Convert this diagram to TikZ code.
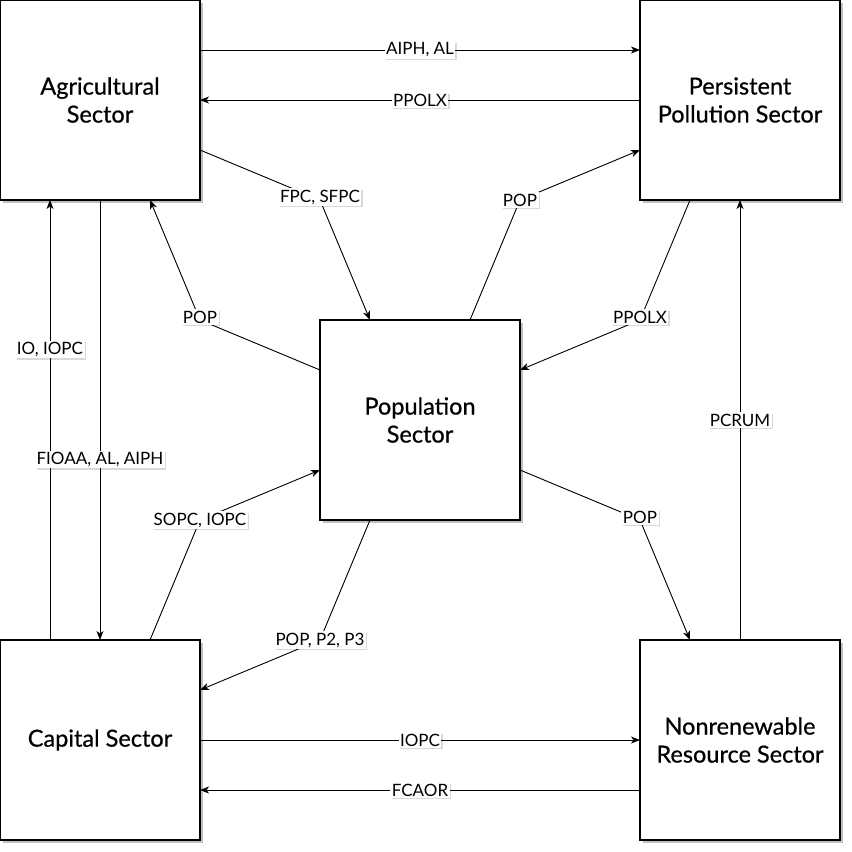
\documentclass[tikz,border=0pt]{standalone}
\usepackage{fontspec}
\setmainfont{Lato}
\newfontface\boxfont{Lato}[FakeBold=0.6]
\usetikzlibrary{arrows.meta,shadows,calc}
\begin{document}
\begin{tikzpicture}[x=1pt,y=-1pt,
  box/.style={draw=black,line width=1.3pt,fill=white,minimum width=200pt,minimum height=200pt,
    inner sep=0pt,outer sep=0pt,align=center,font=\boxfont\fontsize{23.5}{28}\selectfont,
    drop shadow={shadow xshift=2.5pt,shadow yshift=-2.5pt,fill=black,opacity=0.25}},
  edge/.style={draw=black,line width=0.9pt,-{Stealth[length=9pt,width=7pt,inset=2.5pt]}},
  lbl/.style={fill=white,inner sep=1.5pt,font=\fontsize{17}{19}\selectfont,
    drop shadow={shadow xshift=1.5pt,shadow yshift=-1.5pt,fill=black,opacity=0.15}}]
\useasboundingbox (0,0) rectangle (852,852);
\node[box] (agr) at (100,100) {Agricultural\\Sector};
\node[box] (pol) at (740,100) {Persistent\\Pollution Sector};
\node[box] (pop) at (420,420) {Population\\Sector};
\node[box] (cap) at (100,740) {Capital Sector};
\node[box] (nrs) at (740,740) {Nonrenewable\\Resource Sector};
% horizontal top
\draw[edge] ($(agr.north west)+(200,50)$) -- node[lbl]{AIPH, AL} ($(pol.north west)+(0,50)$);
\draw[edge] ($(pol.north west)+(0,100)$) -- node[lbl]{PPOLX} ($(agr.north west)+(200,100)$);
% horizontal bottom
\draw[edge] ($(cap.north west)+(200,100)$) -- node[lbl]{IOPC} ($(nrs.north west)+(0,100)$);
\draw[edge] ($(nrs.north west)+(0,150)$) -- node[lbl]{FCAOR} ($(cap.north west)+(200,150)$);
% verticals left
\draw[edge] ($(cap.north west)+(50,0)$) -- node[lbl,pos=0.66]{IO, IOPC} ($(agr.north west)+(50,200)$);
\draw[edge] ($(agr.north west)+(100,200)$) -- node[lbl,pos=0.59]{FIOAA, AL, AIPH} ($(cap.north west)+(100,0)$);
% vertical right
\draw[edge] ($(nrs.north west)+(100,0)$) -- node[lbl]{PCRUM} ($(pol.north west)+(100,200)$);
% diagonals
\coordinate (w1) at (320,200);
\coordinate (w2) at (200,320);
\coordinate (w3) at (520,200);
\coordinate (w4) at (640,320);
\coordinate (w5) at (640,520);
\coordinate (w6) at (320,640);
\coordinate (w7) at (200,520);
\draw[edge] ($(agr.north west)+(200,150)$) -- (w1) node[lbl,yshift=3pt]{FPC, SFPC} -- ($(pop.north west)+(50,0)$);
\draw[edge] ($(pop.north west)+(0,50)$) -- (w2) node[lbl,yshift=3pt]{POP} -- ($(agr.north west)+(150,200)$);
\draw[edge] ($(pop.north west)+(150,0)$) -- (w3) node[lbl]{POP} -- ($(pol.north west)+(0,150)$);
\draw[edge] ($(pol.north west)+(50,200)$) -- (w4) node[lbl,yshift=3pt]{PPOLX} -- ($(pop.north west)+(200,50)$);
\draw[edge] ($(pop.north west)+(200,150)$) -- (w5) node[lbl,yshift=3pt]{POP} -- ($(nrs.north west)+(50,0)$);
\draw[edge] ($(pop.north west)+(50,200)$) -- (w6) node[lbl]{POP, P2, P3} -- ($(cap.north west)+(200,50)$);
\draw[edge] ($(cap.north west)+(150,0)$) -- (w7) node[lbl]{SOPC, IOPC} -- ($(pop.north west)+(0,150)$);
\end{tikzpicture}
\end{document}
